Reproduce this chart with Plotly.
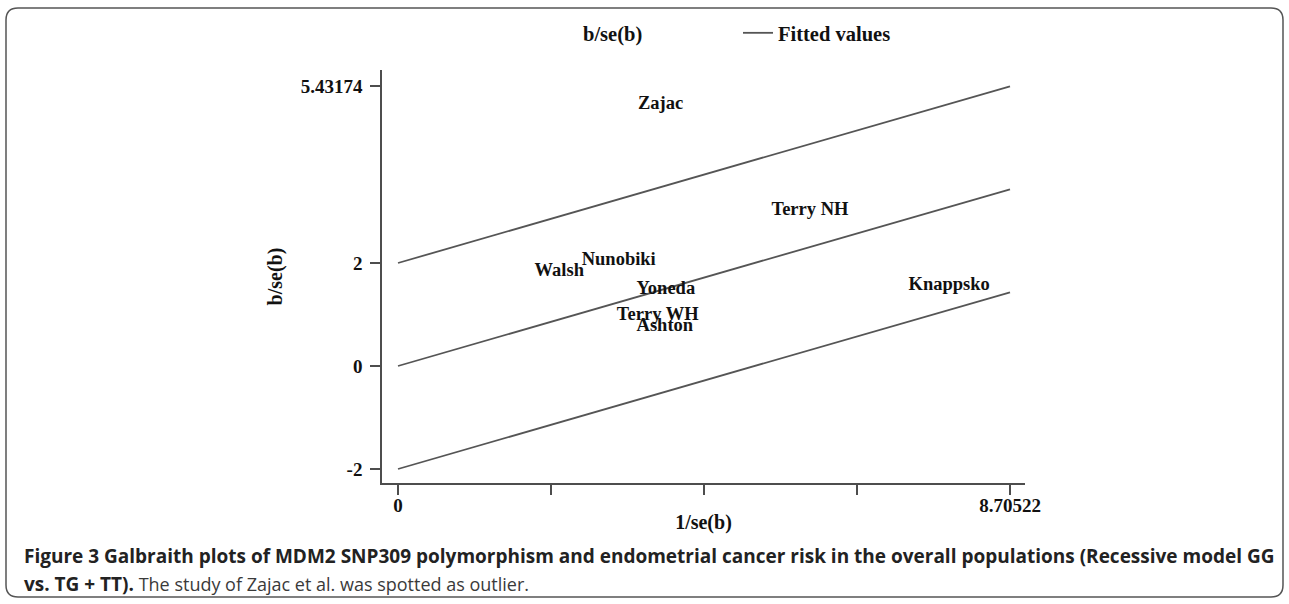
import plotly.graph_objects as go

# ---------------- data ----------------
studies = ["Zajac", "Terry NH", "Walsh", "Nunobiki", "Yoneda", "Terry WH", "Ashton", "Knappsko"]
inv_se = [3.39, 5.29, 1.92, 2.59, 3.37, 3.09, 3.37, 7.24]      # 1/se(b)
z_vals = [5.08, 3.03, 1.84, 2.06, 1.48, 0.99, 0.76, 1.57]      # b/se(b)

slope = 0.394215                # fitted slope (pooled estimate)
offsets = [2, 0, -2]            # upper bound, fit, lower bound
x_ends = [0, 8.70522]

x_tickvals = [0, 2.176305, 4.35261, 6.528915, 8.70522]
x_ticktext = ["0", "", "", "", "8.70522"]
y_tickvals = [-2, 0, 2, 5.43174]
y_ticktext = ["-2", "0", "2", "5.43174"]

caption_bold_1 = "Figure 3 Galbraith plots of MDM2 SNP309 polymorphism and endometrial cancer risk in the overall populations (Recessive model GG"
caption_bold_2 = "vs. TG + TT)."
caption_rest = " The study of Zajac et al. was spotted as outlier."

# ---------------- layout geometry (pixels) ----------------
W, H = 1289, 604
L, R, T, B = 382, 1025, 70, 483
PX_PER_X = 612 / 8.70522
PX_PER_Y = 51.5
X0_PX, Y0_PX = 398, 366

x_range = [(L - X0_PX) / PX_PER_X, (R - X0_PX) / PX_PER_X]
y_range = [(Y0_PX - B) / PX_PER_Y, (Y0_PX - T) / PX_PER_Y]


def pxx(px):
    return (px - L) / (R - L)


def pxy(py):
    return (B - py) / (B - T)


SERIF = "Liberation Serif, Times New Roman, serif"

# fitted lines (one trace, gaps between)
lx, ly = [], []
for c in offsets:
    for xe in x_ends:
        lx.append(xe)
        ly.append(slope * xe + c)
    lx.append(None)
    ly.append(None)

fig = go.Figure()

# legend entry for the study points (no symbol, as in the original)
fig.add_trace(go.Scatter(
    x=[None], y=[None], mode="markers", name="b/se(b)",
    marker=dict(size=1, color="rgba(0,0,0,0)"), showlegend=True,
))

fig.add_trace(go.Scatter(
    x=lx, y=ly, mode="lines", name="Fitted values",
    line=dict(color="#555555", width=1.8), hoverinfo="skip",
))

fig.add_trace(go.Scatter(
    x=inv_se, y=z_vals, mode="markers+text", text=studies,
    textposition="middle right", showlegend=False,
    marker=dict(size=1, color="rgba(0,0,0,0)"),
    textfont=dict(family=SERIF, size=18.5, color="#111111", weight="bold"),
))

axis_common = dict(
    showline=True, linecolor="#4d4d4d", linewidth=1.5,
    ticks="outside", ticklen=10, tickcolor="#4d4d4d", tickwidth=1.5,
    showgrid=False, zeroline=False,
    tickfont=dict(family=SERIF, size=19, color="#111111", weight="bold"),
    title_font=dict(family=SERIF, size=20, color="#111111", weight="bold"),
)

fig.update_xaxes(
    range=x_range, tickmode="array", tickvals=x_tickvals, ticktext=x_ticktext,
    title_text="1/se(b)", title_standoff=0, automargin=False,
    ticklabelstandoff=-6, **axis_common,
)
fig.update_yaxes(
    range=y_range, tickmode="array", tickvals=y_tickvals, ticktext=y_ticktext,
    title_text="b/se(b)", title_standoff=13, automargin=False,
    ticklabelstandoff=4, **axis_common,
)

# rounded frame around the figure
x0, y0, x1, y1, r = 6, 8, 1283, 597, 12
pts = [
    ("M", x0 + r, y0), ("L", x1 - r, y0), ("Q", x1, y0, x1, y0 + r),
    ("L", x1, y1 - r), ("Q", x1, y1, x1 - r, y1), ("L", x0 + r, y1),
    ("Q", x0, y1, x0, y1 - r), ("L", x0, y0 + r), ("Q", x0, y0, x0 + r, y0),
]
path = ""
for p in pts:
    cmd, coords = p[0], p[1:]
    s = []
    for i in range(0, len(coords), 2):
        s.append(f"{pxx(coords[i]):.5f},{pxy(coords[i + 1]):.5f}")
    path += cmd + " " + " ".join(s) + " "
path += "Z"

fig.add_shape(type="path", path=path, xref="paper", yref="paper",
              line=dict(color="#555555", width=1.5), layer="below")

CAP_FONT = dict(family="Open Sans, sans-serif", size=19, color="#222222")
fig.add_annotation(
    x=pxx(22), y=pxy(556), xref="paper", yref="paper", xanchor="left", yanchor="middle",
    text="<b>" + caption_bold_1 + "</b>", showarrow=False, font=CAP_FONT,
)
fig.add_annotation(
    x=pxx(22), y=pxy(584), xref="paper", yref="paper", xanchor="left", yanchor="middle",
    text="<b>" + caption_bold_2 + "</b>"
         + "<span style='font-size:18px;color:#3a3a3a'>" + caption_rest + "</span>",
    showarrow=False, font=CAP_FONT,
)

fig.update_layout(
    width=W, height=H,
    margin=dict(l=L, r=W - R, t=T, b=H - B, autoexpand=False),
    paper_bgcolor="white", plot_bgcolor="white",
    showlegend=True,
    legend=dict(
        orientation="h", xref="container", yref="container",
        x=543 / W, y=1 - 13 / H, xanchor="left", yanchor="top",
        entrywidth=150, entrywidthmode="pixels",
        font=dict(family=SERIF, size=20.5, color="#111111", weight="bold"),
        bgcolor="rgba(0,0,0,0)", traceorder="normal",
    ),
)

fig.write_html(
    "out.html",
    config={"displayModeBar": False},
    post_script="document.body.style.margin='0';document.body.style.overflow='hidden';",
)
